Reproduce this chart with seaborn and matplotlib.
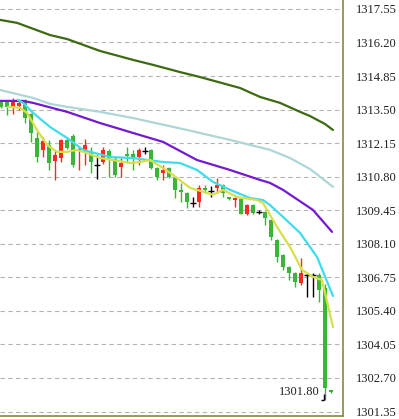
import numpy as np
import pandas as pd
import matplotlib
matplotlib.use("Agg")
import matplotlib.pyplot as plt
import seaborn as sns

# ---- candles ----
opens = [1313.80, 1313.80, 1313.62, 1313.65, 1313.89, 1313.32, 1312.36, 1311.88, 1312.08, 1311.43,
         1311.55, 1312.28, 1312.44, 1311.85, 1311.80, 1311.80, 1311.27, 1311.39, 1311.84, 1311.51,
         1311.19, 1311.70, 1311.71, 1311.59, 1311.84, 1311.88, 1311.15, 1310.95, 1311.15, 1310.75,
         1310.27, 1310.15, 1309.74, 1309.78, 1310.35, 1310.23, 1310.35, 1310.47, 1309.94, 1309.86,
         1309.90, 1309.30, 1309.66, 1309.38, 1309.38, 1309.06, 1308.25, 1307.65, 1307.17, 1306.93,
         1306.52, 1306.85, 1306.85, 1306.85, 1306.32, 1302.20]
highs = [1313.88, 1313.86, 1313.97, 1313.85, 1313.93, 1313.36, 1312.60, 1312.40, 1312.28, 1311.88,
         1312.30, 1312.40, 1312.50, 1312.00, 1312.30, 1312.00, 1311.67, 1312.00, 1311.90, 1311.60,
         1311.55, 1312.00, 1311.88, 1311.96, 1312.00, 1311.92, 1311.20, 1311.27, 1311.20, 1310.80,
         1310.55, 1310.20, 1309.98, 1310.47, 1310.47, 1310.43, 1310.75, 1310.50, 1309.98, 1309.98,
         1309.94, 1309.70, 1309.70, 1309.45, 1309.42, 1309.10, 1308.30, 1307.70, 1307.20, 1306.97,
         1307.53, 1306.93, 1306.93, 1306.93, 1306.50, 1302.22]
lows = [1313.55, 1313.28, 1313.32, 1313.50, 1312.96, 1312.20, 1311.39, 1311.59, 1311.07, 1310.67,
        1311.39, 1311.90, 1311.20, 1311.07, 1311.27, 1310.95, 1310.71, 1311.30, 1310.79, 1310.79,
        1310.79, 1311.35, 1311.07, 1311.27, 1311.71, 1311.10, 1310.67, 1310.67, 1310.75, 1309.94,
        1309.78, 1309.54, 1309.58, 1309.58, 1310.15, 1309.98, 1310.15, 1309.98, 1309.86, 1309.58,
        1309.30, 1309.25, 1309.30, 1309.30, 1308.86, 1308.25, 1307.37, 1307.05, 1306.64, 1306.36,
        1306.45, 1305.96, 1305.96, 1305.76, 1301.80, 1302.10]
closes = [1313.62, 1313.62, 1313.80, 1313.77, 1313.16, 1312.56, 1311.59, 1312.24, 1311.35, 1311.67,
          1312.28, 1311.96, 1311.27, 1311.92, 1312.08, 1311.39, 1311.27, 1311.88, 1311.55, 1310.87,
          1311.35, 1311.64, 1311.55, 1311.88, 1311.84, 1311.15, 1310.79, 1311.07, 1310.79, 1310.27,
          1310.20, 1309.78, 1309.74, 1310.35, 1310.27, 1310.23, 1310.47, 1310.15, 1309.90, 1309.94,
          1309.30, 1309.66, 1309.34, 1309.38, 1309.14, 1308.37, 1307.57, 1307.17, 1306.93, 1306.56,
          1306.93, 1306.85, 1306.85, 1306.24, 1302.30, 1302.12]

# ---- moving averages (bar index, price) ----
ma_long_x = [-0.17, 2.67, 8.17, 11.0, 16.5, 22.0, 25.33, 29.83, 33.17, 39.83, 43.17, 46.5, 49.83, 51.5, 54.0, 55.33]
ma_long_y = [1317.11, 1316.99, 1316.50, 1316.34, 1315.86, 1315.50, 1315.30, 1315.01, 1314.81, 1314.37,
             1314.01, 1313.77, 1313.41, 1313.24, 1312.92, 1312.68]

ma_slow_x = [-0.17, 5.33, 8.17, 11.0, 16.5, 22.0, 31.0, 38.17, 44.83, 48.17, 51.5, 55.33]
ma_slow_y = [1314.29, 1313.97, 1313.73, 1313.61, 1313.41, 1313.16, 1312.68, 1312.28, 1311.88, 1311.55,
             1311.11, 1310.39]

ma_mid_x = [-0.17, 3.67, 5.33, 11.0, 16.5, 22.0, 27.0, 32.67, 38.17, 43.17, 44.83, 47.0, 52.0, 55.17]
ma_mid_y = [1313.85, 1313.85, 1313.77, 1313.41, 1312.96, 1312.56, 1312.20, 1311.47, 1311.07, 1310.67,
            1310.55, 1310.27, 1309.46, 1308.58]

ma_fast_x = [2.83, 3.67, 5.33, 8.17, 11.0, 13.67, 18.17, 22.0, 27.0, 29.83, 32.67, 35.33, 38.17, 41.5,
             43.67, 44.83, 47.0, 49.83, 52.67, 55.33]
ma_fast_y = [1313.89, 1313.77, 1313.37, 1312.80, 1312.36, 1311.88, 1311.59, 1311.55, 1311.39, 1311.35,
             1311.07, 1310.59, 1310.27, 1309.94, 1309.86, 1309.66, 1309.18, 1308.54, 1307.57, 1306.00]

ma_5_x = [1.17, 3.17, 4.33, 6.0, 7.67, 9.33, 11.0, 12.67, 14.33, 16.5, 18.67, 21.5, 23.17, 24.83, 27.0,
          28.67, 31.5, 34.33, 35.33, 37.0, 39.33, 42.67, 43.67, 46.0, 48.17, 50.17, 52.0, 53.5, 55.33]
ma_5_y = [1313.61, 1313.57, 1313.37, 1312.68, 1312.08, 1311.80, 1311.80, 1311.88, 1311.75, 1311.55,
          1311.47, 1311.35, 1311.39, 1311.47, 1311.15, 1310.87, 1310.35, 1310.15, 1310.07, 1310.27,
          1309.98, 1309.86, 1309.74, 1308.78, 1307.97, 1307.05, 1306.77, 1306.64, 1304.75]

tick_values = [1317.55, 1316.20, 1314.85, 1313.50, 1312.15, 1310.80, 1309.45, 1308.10, 1306.75,
               1305.40, 1304.05, 1302.70, 1301.35]
tick_labels = ["1317.55", "1316.20", "1314.85", "1313.50", "1312.15", "1310.80", "1309.45", "1308.10",
               "1306.75", "1305.40", "1304.05", "1302.70", "1301.35"]
low_label = "1301.80"

df = pd.DataFrame({"i": np.arange(len(opens)), "open": opens, "high": highs,
                   "low": lows, "close": closes})
df["kind"] = np.where(df["close"] > df["open"], "up",
                      np.where(df["close"] < df["open"], "down", "doji"))
colors = {"up": "#fa2a1e", "down": "#3cb43c", "doji": "black"}

sns.set_style("white")
plt.rcParams["font.family"] = ["Liberation Serif", "DejaVu Serif"]

fig = plt.figure(figsize=(3.99, 4.19), dpi=100)
ax = fig.add_axes([0, 3 / 419, 343 / 399, 416 / 419])

# wicks
ax.vlines(df["i"], df["low"], df["high"], colors=df["kind"].map(colors), linewidth=1, zorder=2)

# bodies
bodies = df[df["kind"] != "doji"]
body_low = np.minimum(bodies["open"], bodies["close"])
body_h = np.maximum((bodies["open"] - bodies["close"]).abs(), 0.07)
ax.bar(bodies["i"], body_h, bottom=body_low, width=0.8,
       color=bodies["kind"].map(colors), linewidth=0, zorder=3)

# doji crosses
dojis = df[df["kind"] == "doji"]
ax.hlines(dojis["close"], dojis["i"] - 0.42, dojis["i"] + 0.42, colors="black", linewidth=1, zorder=3)

# moving averages
sns.lineplot(x=ma_long_x, y=ma_long_y, ax=ax, color="#3c6a12", linewidth=1.6, sort=False, estimator=None, zorder=4)
sns.lineplot(x=ma_slow_x, y=ma_slow_y, ax=ax, color="#aed6d6", linewidth=1.6, sort=False, estimator=None, zorder=4)
sns.lineplot(x=ma_mid_x, y=ma_mid_y, ax=ax, color="#7419d2", linewidth=1.6, sort=False, estimator=None, zorder=4)
sns.lineplot(x=ma_fast_x, y=ma_fast_y, ax=ax, color="#3edcec", linewidth=1.6, sort=False, estimator=None, zorder=4)
sns.lineplot(x=ma_5_x, y=ma_5_y, ax=ax, color="#d6e048", linewidth=1.6, sort=False, estimator=None, zorder=4)

# lowest price marker
low_i = int(df["low"].idxmin())
ax.hlines(df["low"][low_i], low_i - 0.75, low_i - 0.1, colors="black", linewidth=1, zorder=5)
ax.vlines(low_i - 0.1, df["low"][low_i], df["low"][low_i] + 0.25, colors="black", linewidth=1, zorder=5)
ax.text(low_i - 0.95, df["low"][low_i] + 0.33, low_label, ha="right", va="center",
        fontsize=9, color="#202020")

ax.set_xlim(-0.17, 57.0)
ax.set_ylim(1301.17, 1317.91)
ax.set_xticks([])
ax.yaxis.tick_right()
ax.set_yticks(tick_values)
ax.set_yticklabels(tick_labels)
ax.tick_params(axis="y", length=0, pad=9, labelsize=9, labelcolor="#202020")
ax.yaxis.grid(True, linestyle=(0, (4, 3)), color="#b4b4b4", linewidth=0.8)
ax.set_axisbelow(True)

for side in ["left", "top"]:
    ax.spines[side].set_visible(False)
for side in ["right", "bottom"]:
    ax.spines[side].set_color("#8a8a3a")
    ax.spines[side].set_linewidth(1.2)

fig.savefig("out.png", dpi=100)
